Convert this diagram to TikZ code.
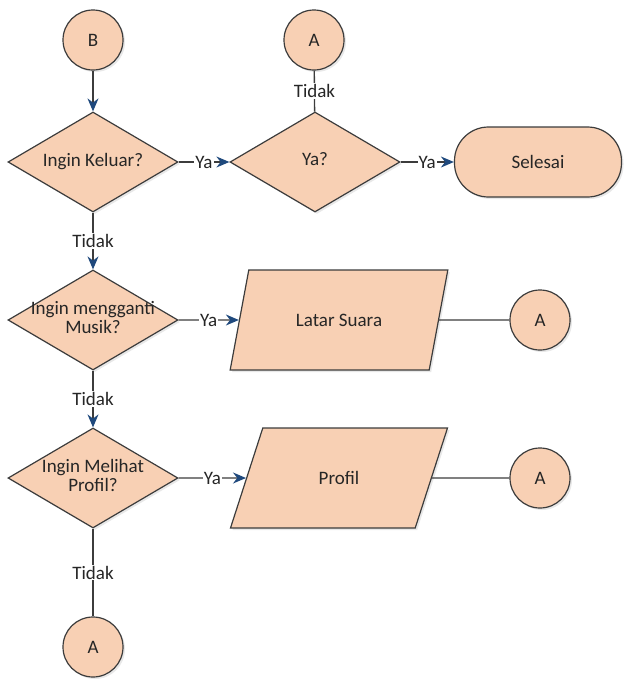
\documentclass[tikz,border=0pt]{standalone}
\usepackage{fontspec}
\setmainfont{Carlito}
\usetikzlibrary{shapes.geometric,arrows.meta,shadows}
\definecolor{isi}{RGB}{248,208,180}
\definecolor{garis}{RGB}{60,60,60}
\definecolor{biru}{RGB}{31,73,125}
\newcommand{\tengah}[1]{\makebox[0pt]{\begin{tabular}{@{}c@{}}#1\end{tabular}}}
\begin{document}
\begin{tikzpicture}[x=1pt,y=-1pt,>={Stealth[length=13pt,width=11pt,color=biru]},
  font=\fontsize{19}{17}\selectfont,text=black!85,
  bentuk/.style={draw=garis,line width=1.2pt,fill=isi,drop shadow={opacity=0.18,shadow xshift=2pt,shadow yshift=-2pt}},
  konektor/.style={bentuk,circle,minimum size=60pt,inner sep=0pt},
  keputusan/.style={bentuk,diamond,minimum width=170pt,minimum height=100pt,inner sep=0pt},
  masukan/.style={bentuk,trapezium,trapezium left angle=63.4,trapezium right angle=116.6,trapezium stretches=true,minimum width=218pt,minimum height=100pt},
  terminal/.style={bentuk,rectangle,rounded corners=34pt,minimum width=167pt,minimum height=70pt},
  alur/.style={draw=garis,line width=1.4pt},
  ket/.style={fill=white,inner sep=1pt}]
   \useasboundingbox (0,0) rectangle (625,681);

   % baris atas
   \node[konektor] (B) at (93,40) {B};
   \node[konektor] (A1) at (314,40) {A};
   \node[keputusan] (keluar) at (93,162) {\tengah{Ingin Keluar?}};
   \node[keputusan] (ya) at (315,162) {\tengah{Ya?}};
   \node[terminal] (selesai) at (538,162) {Selesai};

   % musik
   \node[keputusan] (musik) at (93,320) {\tengah{Ingin mengganti\\Musik?}};
   \node[masukan] (latar) at (339,320) {Latar Suara};
   \node[konektor] (A2) at (540,320) {A};

   % profil
   \node[keputusan] (lihat) at (93,478) {\tengah{Ingin Melihat\\Profil?}};
   \node[masukan] (profil) at (339,478) {Profil};
   \node[konektor] (A3) at (540,478) {A};
   \node[konektor] (A4) at (93,647) {A};

   \draw[alur,->] (B) -- (keluar);
   \draw[alur,->] (keluar) -- node[ket] {Ya} (ya);
   \draw[alur] (ya) -- node[ket] {Tidak} (A1);
   \draw[alur,->] (ya) -- node[ket] {Ya} (selesai);
   \draw[alur,->] (keluar) -- node[ket] {Tidak} (musik);
   \draw[alur,->] (musik) -- node[ket] {Ya} (latar);
   \draw[alur] (latar) -- (A2);
   \draw[alur,->] (musik) -- node[ket] {Tidak} (lihat);
   \draw[alur,->] (lihat) -- node[ket] {Ya} (profil);
   \draw[alur] (profil) -- (A3);
   \draw[alur] (lihat) -- node[ket] {Tidak} (A4);

\end{tikzpicture}
\end{document}
